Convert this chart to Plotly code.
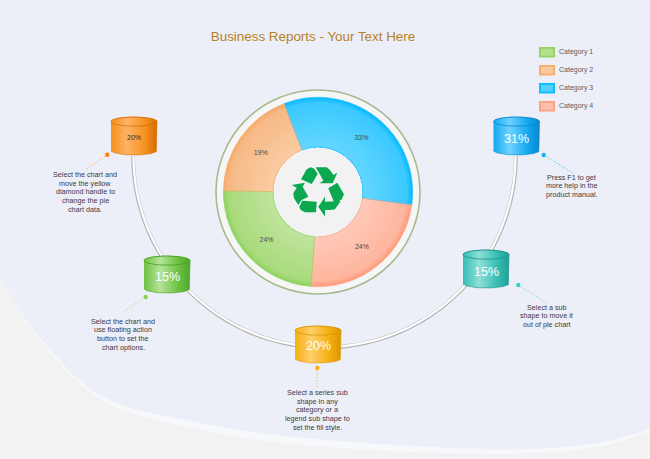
import numpy as np
import plotly.graph_objects as go

# ---- data ----
categories = ["Category 1", "Category 2", "Category 3", "Category 4"]
pie_categories = ["Category 3", "Category 4", "Category 1", "Category 2"]
pie_values = [33, 24, 24, 19]
cylinder_labels = ["20%", "15%", "20%", "31%", "15%"]
title_text = "Business Reports - Your Text Here"
notes = [
    ["Select the chart and", "move the yellow", "diamond handle to", "change the pie", "chart data."],
    ["Select the chart and", "use floating action", "button to set the", "chart options."],
    ["Select a series sub", "shape in any", "category or a", "legend sub shape to", "set the fill style."],
    ["Press F1 to get", "more help in the", "product manual."],
    ["Select a sub", "shape to move it", "out of pie chart"],
]

# ---- styles / layout ----
W, H = 650, 459
FONT = "Liberation Sans, Arial, sans-serif"
CX, CY = 318, 192
HOLE_R = 45
cat_rim = {"Category 1": "#92D465", "Category 2": "#F6AD6E", "Category 3": "#0FBCFF", "Category 4": "#FF9F80"}
rim_cols = [(0x0F, 0xBC, 0xFF), (0xFF, 0x9F, 0x80), (0x92, 0xD4, 0x65), (0xF6, 0xAD, 0x6E)]
body_cols = [(0x3C, 0xC9, 0xFF), (0xFF, 0xB6, 0x9E), (0xA9, 0xDB, 0x7D), (0xF6, 0xBA, 0x87)]
inner_cols = [(0x60, 0xD5, 0xFF), (0xFF, 0xC8, 0xB6), (0xBE, 0xE3, 0x9B), (0xFA, 0xCA, 0xA0)]


def mix(a, b, f):
    return ["rgb(%d,%d,%d)" % tuple(round(p + (q - p) * f) for p, q in zip(x, y)) for x, y in zip(a, b)]


layers = [(94.7, mix(rim_cols, body_cols, 0)), (92.5, mix(rim_cols, body_cols, 0.5))]
for k, rad in enumerate(np.linspace(90, 50, 12)):
    layers.append((float(rad), mix(body_cols, inner_cols, k / 11)))

cyl_cfg = [
    (134, 117, 155, ("#F5911E", "#FFB265", "#D66B00"), "#D96F00", "#3A2A10", 7, 137),
    (167, 256, 293, ("#6CC040", "#B5E49A", "#4FA82E"), "#45A01F", "white", 12.5, 276.5),
    (318, 326, 363, ("#F5AE10", "#FFCF6A", "#D89600"), "#D89600", "white", 12.5, 345.5),
    (516.5, 117, 155, ("#12A8F0", "#6FD2FF", "#0A86CC"), "#0A86CC", "white", 12.5, 138.5),
    (486, 250, 288, ("#34BDB4", "#8FE0D8", "#1FA098"), "#1D8F88", "white", 12.5, 271.5),
]
callouts = [
    ((107.3, 154.7), (85, 170), 85, 174.3, "#FF7F11"),
    ((145.7, 297), (123, 312), 123, 321, "#86D150"),
    ((317.3, 368), (317, 388), 317, 392.3, "#FFAE12"),
    ((543.7, 155), (573, 173), 571.7, 177, "#12B5F5"),
    ((518.3, 285), (546.7, 303), 546.7, 307, "#3CCFC8"),
]


def smooth(points):
    p = [np.array(q, float) for q in points]
    s = f"M{p[0][0]},{p[0][1]}"
    for i in range(len(p) - 1):
        a = p[max(i - 1, 0)]
        b, c = p[i], p[i + 1]
        d = p[min(i + 2, len(p) - 1)]
        c1, c2 = b + (c - a) / 6, c - (d - b) / 6
        s += f" C{c1[0]:.1f},{c1[1]:.1f} {c2[0]:.1f},{c2[1]:.1f} {c[0]:.1f},{c[1]:.1f}"
    return s


def circle(cx, cy, r, **kw):
    return dict(type="circle", xref="x", yref="y", x0=cx - r, x1=cx + r, y0=cy - r, y1=cy + r, **kw)


shapes = []
# background swoosh
band_edge = [(0, 276), (33, 331), (100, 399), (200, 430), (325, 447), (492, 454), (592, 448), (650, 431)]
blue_edge = [(0, 276), (33, 329), (100, 395), (200, 423), (325, 440), (492, 449), (592, 444), (650, 429)]
shapes.append(dict(type="path", xref="x", yref="y", layer="below", line_width=0, fillcolor="#F6F8FC",
                   path=smooth(band_edge) + f" L{W},0 L0,0 Z"))
shapes.append(dict(type="path", xref="x", yref="y", layer="below", line_width=0, fillcolor="#ECEFF7",
                   path=smooth(blue_edge) + f" L{W},0 L0,0 Z"))
# connector arc
arc = np.linspace(0, np.pi, 80)


def arc_path(R):
    return "M" + " L".join(f"{324.5 - R * np.cos(t):.1f},{156 + R * np.sin(t):.1f}" for t in arc)


shapes.append(dict(type="path", xref="x", yref="y", layer="below", path=arc_path(191.4), line=dict(color="#B4B4B4", width=3.8)))
shapes.append(dict(type="path", xref="x", yref="y", layer="below", path=arc_path(191), line=dict(color="#FFFFFF", width=2.2)))
# ring round the pie
shapes.append(circle(CX, CY, 102, layer="below", fillcolor="#F6F6F6", line=dict(color="#A9B88F", width=1.6)))
shapes.append(circle(CX, CY, HOLE_R, layer="below", fillcolor="#F2F2F2", line_width=0))
# recycle mark, three bent arrows
recycle = [
    [(63, 88), (80, 58), (92, 52), (103, 56), (113, 72), (95, 102)],
    [(107, 52), (140, 52), (150, 60), (160, 75), (172, 68), (158, 100), (118, 100), (130, 92), (122, 77)],
    [(145, 115), (172, 98), (192, 133), (185, 148), (170, 158), (163, 158)],
    [(182, 153), (165, 178), (150, 180), (135, 180), (135, 200), (115, 170), (135, 140), (135, 155)],
    [(67, 152), (110, 155), (108, 187), (75, 187), (62, 180), (58, 170)],
    [(35, 105), (75, 98), (68, 110), (85, 140), (65, 150), (55, 165), (42, 145), (40, 130), (50, 113)],
]
for poly in recycle:
    pts = [(280 + x / 3, 150 + y / 3) for x, y in poly]
    shapes.append(dict(type="path", xref="x", yref="y", layer="above", fillcolor="#0BA84F", line_width=0,
                       path="M" + " L".join(f"{x:.1f},{y:.1f}" for x, y in pts) + " Z"))
# legend swatches
swatch_inner = {"Category 1": "#B5E08E", "Category 2": "#F9C89C", "Category 3": "#52D1FF", "Category 4": "#FFC0AB"}
annotations = []
for i, c in enumerate(categories):
    y = 47 + 18 * i
    shapes.append(dict(type="rect", xref="x", yref="y", x0=539, x1=555, y0=y, y1=y + 10.5, layer="below",
                       fillcolor=cat_rim[c], line_width=0))
    shapes.append(dict(type="rect", xref="x", yref="y", x0=541, x1=553, y0=y + 1.8, y1=y + 8.7, layer="below",
                       fillcolor=swatch_inner[c], line_width=0))
    annotations.append(dict(x=556.5, y=y + 4.5, text=c, xref="x", yref="y", showarrow=False, xanchor="left",
                            yanchor="middle", font=dict(family=FONT, size=7, color="#5A5A5A")))
# callouts
for (dot, end, tx, ty, col), lines in zip(callouts, notes):
    shapes.append(dict(type="line", xref="x", yref="y", x0=dot[0], y0=dot[1], x1=end[0], y1=end[1], layer="below",
                       opacity=0.85, line=dict(color=col, width=1, dash="1px,2px")))
    shapes.append(circle(dot[0], dot[1], 2.2, layer="below", fillcolor=col, line_width=0))
    for j, line in enumerate(lines):
        annotations.append(dict(x=tx, y=ty + 8.75 * j, text=line, xref="x", yref="y", showarrow=False,
                                xanchor="center", yanchor="middle", font=dict(family=FONT, size=7.2, color="#3C3848")))

fig = go.Figure()
# cylinders
RY = 4.6
CW = 23
for (cx, top, bot, grad, rim, tcol, tsize, ty), label in zip(cyl_cfg, cylinder_labels):
    t = np.linspace(np.pi, 0, 40)
    upper_x = cx + CW * np.cos(t)
    upper_y = top + RY - RY * np.sin(t)
    lower_x = cx + CW * np.cos(t[::-1])
    lower_y = bot - RY + RY * np.sin(t[::-1])
    scale = [[0, grad[0]], [0.35, grad[1]], [0.75, grad[0]], [1, grad[2]]]
    fig.add_trace(go.Scatter(
        x=np.r_[upper_x, lower_x], y=np.r_[upper_y, lower_y],
        mode="lines", fill="toself", line=dict(color=rim, width=0.6), hoverinfo="skip", showlegend=False,
        fillgradient=dict(type="horizontal", colorscale=scale)))
    a = np.linspace(0, 2 * np.pi, 60)
    fig.add_trace(go.Scatter(
        x=cx + CW * np.cos(a), y=top + RY + RY * np.sin(a), mode="lines", fill="toself",
        line=dict(color=rim, width=0.8), hoverinfo="skip", showlegend=False,
        fillgradient=dict(type="horizontal", colorscale=scale)))
    annotations.append(dict(x=cx, y=ty, text=label, xref="x", yref="y", showarrow=False, xanchor="center",
                            yanchor="middle", font=dict(family=FONT, size=tsize, color=tcol)))

# pie, built as concentric layers for the shaded rim
for r, cols in layers:
    fig.add_trace(go.Pie(
        labels=pie_categories, values=pie_values, sort=False, direction="clockwise", rotation=-21,
        hole=HOLE_R / r, marker=dict(colors=cols, line=dict(width=0)),
        domain=dict(x=[(CX - r) / W, (CX + r) / W], y=[1 - (CY + r) / H, 1 - (CY - r) / H]),
        textinfo="none", hoverinfo="label+percent", showlegend=False))
# percentage labels sit in the middle of the visible ring; thin slice outlines
r = layers[0][0]
fig.add_trace(go.Pie(
    labels=pie_categories, values=pie_values, sort=False, direction="clockwise", rotation=-21,
    hole=HOLE_R / r,
    marker=dict(colors=["rgba(0,0,0,0)"] * 4, line=dict(width=0.5, color=mix(rim_cols, body_cols, 0))),
    domain=dict(x=[(CX - r) / W, (CX + r) / W], y=[1 - (CY + r) / H, 1 - (CY - r) / H]),
    textinfo="percent", textposition="inside", insidetextorientation="horizontal",
    textfont=dict(family=FONT, size=7, color="#4A4A4A"), hoverinfo="skip", showlegend=False))

fig.update_layout(
    width=W, height=H, margin=dict(l=0, r=0, t=0, b=0), autosize=False,
    paper_bgcolor="#F2F2F2", plot_bgcolor="rgba(0,0,0,0)", showlegend=False,
    xaxis=dict(range=[0, W], visible=False, fixedrange=True),
    yaxis=dict(range=[H, 0], visible=False, fixedrange=True),
    title=dict(text=title_text, x=313 / W, y=1 - 36 / H, xanchor="center", yanchor="middle", xref="paper", yref="paper",
               font=dict(family=FONT, size=13.4, color="#B8801F")),
    shapes=shapes, annotations=annotations,
)
fig.write_html("out.html", config=dict(displayModeBar=False),
               post_script="document.body.style.margin='0';document.documentElement.style.overflow='hidden';")
